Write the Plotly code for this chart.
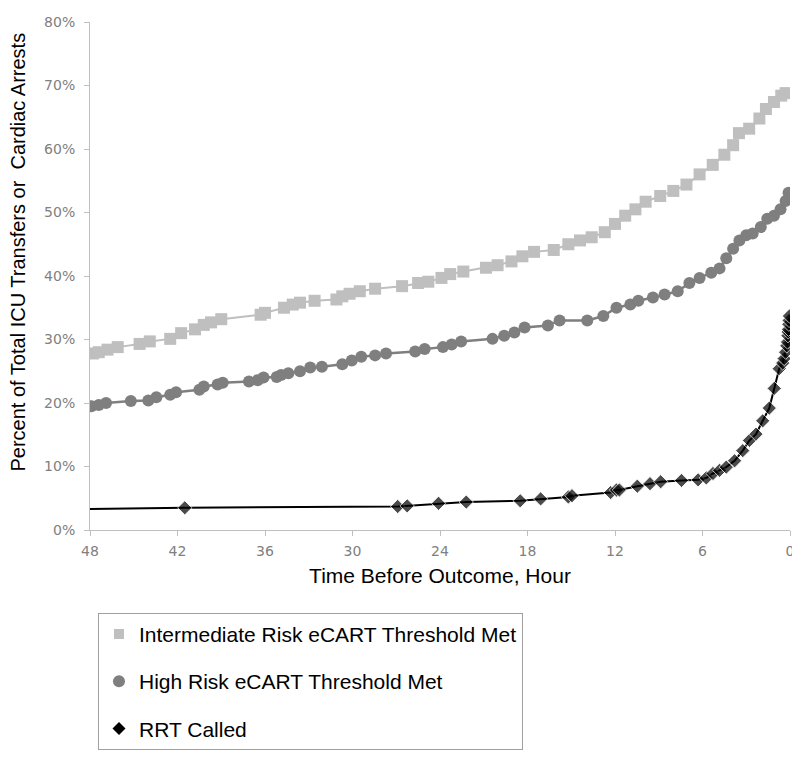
import plotly.graph_objects as go

# ---------------- data (hours before outcome, percent) ----------------
inter_hours = [47.8, 47.4, 46.8, 46.1, 44.6, 43.9, 42.5, 41.75, 40.8, 40.2,
               39.7, 39.0, 36.3, 36.0, 34.7, 34.1, 33.6, 32.6, 31.1, 30.7,
               30.2, 29.5, 28.45, 26.6, 25.5, 24.8, 23.9, 23.3, 22.4, 20.85,
               20.05, 19.1, 18.35, 17.55, 16.2, 15.2, 14.4, 13.6, 12.7, 12.0,
               11.3, 10.6, 9.9, 8.9, 8.0, 7.1, 6.2, 5.3, 4.5, 3.9,
               3.5, 2.8, 2.1, 1.65, 1.1, 0.6, 0.3]
inter_pct = [27.8, 28.0, 28.4, 28.8, 29.3, 29.7, 30.1, 31.0, 31.6, 32.3,
             32.7, 33.2, 33.9, 34.2, 35.0, 35.5, 35.8, 36.1, 36.3, 36.8,
             37.2, 37.6, 38.0, 38.4, 38.9, 39.1, 39.7, 40.3, 40.7, 41.3,
             41.7, 42.3, 43.1, 43.8, 44.1, 45.0, 45.6, 46.1, 46.9, 48.2,
             49.5, 50.5, 51.7, 52.6, 53.4, 54.4, 56.0, 57.5, 59.1, 60.6,
             62.5, 63.2, 64.8, 66.3, 67.4, 68.4, 68.8]

high_hours = [47.9, 47.4, 46.9, 45.2, 44.0, 43.45, 42.5, 42.1, 40.5, 40.2,
              39.25, 38.9, 37.1, 36.5, 36.1, 35.2, 34.9, 34.4, 33.6, 32.9,
              32.1, 30.7, 30.05, 29.4, 28.45, 27.7, 25.7, 25.05, 23.8, 23.2,
              22.55, 20.4, 19.6, 18.9, 18.2, 16.6, 15.8, 13.9, 12.8, 11.9,
              10.95, 10.4, 9.4, 8.6, 7.7, 6.9, 6.2, 5.4, 4.83, 4.37,
              3.9, 3.47, 3.0, 2.56, 2.0, 1.56, 1.1, 0.65, 0.3, 0.1]
high_pct = [19.5, 19.7, 20.0, 20.3, 20.4, 20.9, 21.3, 21.7, 22.1, 22.6,
            22.9, 23.2, 23.4, 23.6, 24.0, 24.1, 24.4, 24.7, 25.0, 25.6,
            25.7, 26.1, 26.7, 27.3, 27.5, 27.8, 28.1, 28.5, 28.8, 29.2,
            29.7, 30.1, 30.6, 31.1, 31.9, 32.2, 33.0, 33.0, 33.7, 35.0,
            35.5, 36.1, 36.6, 37.1, 37.6, 38.9, 39.7, 40.5, 41.2, 42.8,
            44.3, 45.6, 46.4, 46.7, 47.7, 49.0, 49.5, 50.5, 51.8, 53.1]

rrt_hours = [48.0, 41.5, 26.9, 26.25, 24.1, 22.2, 18.5, 17.1, 15.2, 14.95,
             12.3, 11.9, 11.7, 10.47, 9.6, 8.87, 7.44, 6.3, 5.74, 5.28,
             4.83, 4.37, 3.8, 3.24, 2.78, 2.33, 1.87, 1.42, 1.08, 0.74,
             0.5, 0.4, 0.3, 0.22, 0.17, 0.14, 0.12, 0.1, 0.08, 0.06, 0.04]
rrt_pct = [3.3, 3.5, 3.7, 3.8, 4.2, 4.4, 4.6, 4.9, 5.2, 5.4,
           5.9, 6.3, 6.3, 6.9, 7.3, 7.6, 7.8, 7.9, 8.2, 8.9,
           9.4, 9.9, 10.9, 12.5, 14.1, 15.1, 17.2, 19.2, 22.3, 25.4,
           26.3, 27.0, 28.0, 29.0, 29.6, 30.6, 31.2, 31.6, 32.4, 33.0, 33.7]

series_names = ["Intermediate Risk eCART Threshold Met",
                "High Risk eCART Threshold Met",
                "RRT Called"]
x_ticks = [48, 42, 36, 30, 24, 18, 12, 6, 0]
y_ticks = [0, 10, 20, 30, 40, 50, 60, 70, 80]

LIGHT = "#bfbfbf"
MID = "#7f7f7f"
DARK = "#000000"
TXT_FONT = "Liberation Sans, Arial, sans-serif"
TICK_FONT = "DejaVu Sans, sans-serif"

fig = go.Figure()

# data traces (not in legend)
fig.add_trace(go.Scatter(
    x=inter_hours, y=inter_pct, mode="lines+markers", showlegend=False,
    line=dict(color=LIGHT, width=2),
    marker=dict(symbol="square", size=12, color=LIGHT), hoverinfo="skip"))
fig.add_trace(go.Scatter(
    x=high_hours, y=high_pct, mode="lines+markers", showlegend=False,
    line=dict(color=MID, width=2.5),
    marker=dict(symbol="circle", size=12, color=MID), hoverinfo="skip"))
rrt_sizes = [0] + [11] * (len(rrt_hours) - 1)
fig.add_trace(go.Scatter(
    x=rrt_hours, y=rrt_pct, mode="lines+markers", showlegend=False,
    line=dict(color=DARK, width=2),
    marker=dict(symbol="diamond", size=rrt_sizes, color=DARK), hoverinfo="skip"))

# legend-only entries (markers without line, as in reference)
for name, sym, col, sz in zip(series_names,
                              ["square", "circle", "diamond"],
                              [LIGHT, MID, DARK], [10, 12, 10]):
    fig.add_trace(go.Scatter(
        x=[None], y=[None], mode="markers", name=name, legendgroup=name,
        marker=dict(symbol=sym, size=sz, color=col)))

# the page body has an 8px margin, so the figure is 8px smaller each way
fig.update_layout(
    width=792, height=752,
    margin=dict(l=82, r=6, t=7, b=230),
    paper_bgcolor="white", plot_bgcolor="white",
    showlegend=True,
    legend=dict(
        x=0.0114, y=-0.163, xanchor="left", yanchor="top",
        bordercolor="#a0a0a0", borderwidth=1, bgcolor="white",
        font=dict(family=TXT_FONT, size=21, color="black"),
        tracegroupgap=17, itemsizing="trace", traceorder="grouped"),
    xaxis=dict(
        range=[48, 0], tickvals=x_ticks, ticktext=[str(v) for v in x_ticks],
        showline=True, linecolor=LIGHT, linewidth=1,
        ticks="outside", ticklen=5, tickcolor=LIGHT,
        showgrid=False, zeroline=False, ticklabeloverflow="allow",
        tickfont=dict(family=TICK_FONT, size=14, color="#808080"),
        ticklabelstandoff=3,
        title=dict(text="Time Before Outcome, Hour",
                   font=dict(family=TXT_FONT, size=21, color="black"),
                   standoff=10)),
    yaxis=dict(
        range=[0, 80], tickvals=y_ticks, ticktext=[f"{v}%" for v in y_ticks],
        showline=True, linecolor=LIGHT, linewidth=1,
        ticks="outside", ticklen=5, tickcolor=LIGHT,
        showgrid=False, zeroline=False, ticklabeloverflow="allow",
        tickfont=dict(family=TICK_FONT, size=14, color="#808080"),
        ticklabelstandoff=6),
    annotations=[dict(
        text="Percent of Total ICU Transfers or\u00a0 Cardiac Arrests",
        xref="paper", yref="paper", x=-0.1023, y=0.547,
        xanchor="center", yanchor="middle", textangle=-90, showarrow=False,
        font=dict(family=TXT_FONT, size=20, color="black"))],
)

fig.write_html("out.html")
